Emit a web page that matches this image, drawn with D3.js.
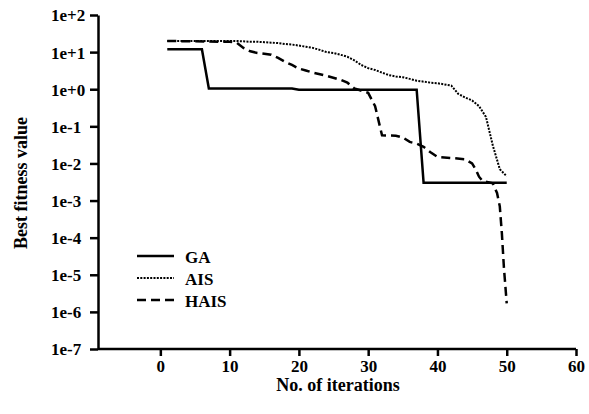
<!DOCTYPE html>
<html>
<head>
<meta charset="utf-8">
<script src="https://cdn.jsdelivr.net/npm/d3@7"></script>
<style>
  html, body { margin: 0; padding: 0; background: #fff; }
</style>
</head>
<body>
<svg id="chart" width="589" height="414"></svg>
<script>
// ---- data ----
const xTicks = [0, 10, 20, 30, 40, 50, 60];
const yTicks = [1e-7, 1e-6, 1e-5, 1e-4, 1e-3, 1e-2, 1e-1, 1e0, 1e1, 1e2];
const yTickLabels = ["1e-7", "1e-6", "1e-5", "1e-4", "1e-3", "1e-2", "1e-1", "1e+0", "1e+1", "1e+2"];
const seriesNames = ["GA", "AIS", "HAIS"];

// GA: [iteration, best fitness]
const gaIter  = [1, 6, 7, 19, 20, 37, 38, 50];
const gaValue = [12, 12, 1.05, 1.05, 0.97, 0.97, 0.003, 0.003];

// AIS: one value per iteration 1..50
const aisIter = d3.range(1, 51);
const aisValue = [20, 20, 20, 20, 20, 20, 20, 20, 20, 20,
                  20, 19.5, 19, 19, 18.5, 18, 17.5, 16.5, 16, 15,
                  14, 13, 11.5, 10, 9.5, 8.5, 7.5, 6, 4.5, 3.7,
                  3.3, 2.8, 2.4, 2.2, 2.1, 1.9, 1.7, 1.6, 1.5, 1.45,
                  1.35, 1.25, 0.75, 0.6, 0.5, 0.35, 0.18, 0.03, 0.007, 0.0045];

// HAIS: [iteration, best fitness]
const haisIter  = [1, 5, 10, 11, 12, 13, 14, 16, 17, 18, 19, 20, 21, 22, 24, 26, 27, 28, 30, 31, 32, 34, 35, 36, 37, 38, 39, 40, 42, 44, 45, 45.5, 46, 46.5, 48, 48.6, 49, 49.3, 49.6, 50];
const haisValue = [20, 19.5, 19, 18, 13, 10.5, 9.5, 8.5, 7, 5.5, 4.5, 3.6, 3.2, 2.8, 2.3, 1.8, 1.5, 1.05, 0.8, 0.35, 0.057, 0.056, 0.05, 0.038, 0.034, 0.028, 0.02, 0.015, 0.014, 0.013, 0.01, 0.007, 0.0044, 0.0034, 0.0029, 0.0016, 0.0007, 0.00013, 0.000015, 1.7e-6];

// ---- drawing ----
const FONT = "'Liberation Serif', 'Times New Roman', Tinos, 'DejaVu Serif', serif";
const svg = d3.select("#chart");
const x = d3.scaleLinear().domain([-9, 60]).range([98, 576]);
const y = d3.scaleLog().domain([1e-7, 1e2]).range([349, 15]);

const styles = {
  GA:   { width: 2.5, dash: null },
  AIS:  { width: 2,   dash: "2,1.3" },
  HAIS: { width: 2.5, dash: "9,5" }
};

const line = d3.line().x(d => x(d[0])).y(d => y(d[1]));
const series = [
  { name: "GA",   pts: d3.zip(gaIter, gaValue) },
  { name: "AIS",  pts: d3.zip(aisIter, aisValue) },
  { name: "HAIS", pts: d3.zip(haisIter, haisValue) }
];

series.forEach(s => {
  svg.append("path")
    .attr("d", line(s.pts))
    .attr("fill", "none")
    .attr("stroke", "#000")
    .attr("stroke-width", styles[s.name].width)
    .attr("stroke-dasharray", styles[s.name].dash)
    .attr("stroke-linejoin", "miter");
});

// axes
const xAxis = d3.axisBottom(x).tickValues(xTicks).tickFormat(d3.format("d"))
  .tickSize(7).tickSizeOuter(0).tickPadding(4);
const gx = svg.append("g").attr("transform", "translate(0,349)").call(xAxis);

const yAxis = d3.axisLeft(y).tickValues(yTicks)
  .tickFormat((d, i) => yTickLabels[i]).tickSize(8).tickSizeOuter(0);
const gy = svg.append("g").attr("transform", "translate(98,0)").call(yAxis);

[gx, gy].forEach(g => {
  g.attr("font-family", FONT).attr("font-size", 17).attr("font-weight", "bold");
  g.select(".domain").attr("stroke", "#000").attr("stroke-width", 2.5);
  g.selectAll(".tick line").attr("stroke", "#000").attr("stroke-width", 2.5);
  g.selectAll(".tick text").attr("fill", "#000");
});
gy.selectAll(".tick text").attr("x", -47).attr("text-anchor", "start").attr("dy", "0.35em");
// extend x axis line to meet the y axis
gx.select(".domain").attr("d", `M${x(-9)},0H${x(60)}`);

// axis titles
svg.append("text")
  .attr("x", 338).attr("y", 391)
  .attr("text-anchor", "middle")
  .attr("font-family", FONT).attr("font-weight", "bold").attr("font-size", 18)
  .text("No. of iterations");
svg.append("text")
  .attr("transform", "translate(27,183) rotate(-90)")
  .attr("text-anchor", "middle")
  .attr("font-family", FONT).attr("font-weight", "bold").attr("font-size", 18)
  .text("Best fitness value");

// legend
const legendY = [256, 278, 300];
seriesNames.forEach((n, i) => {
  svg.append("line")
    .attr("x1", 137).attr("x2", 174)
    .attr("y1", legendY[i]).attr("y2", legendY[i])
    .attr("stroke", "#000")
    .attr("stroke-width", styles[n].width)
    .attr("stroke-dasharray", styles[n].dash);
  svg.append("text")
    .attr("x", 185).attr("y", legendY[i] + 6.5)
    .attr("font-family", FONT).attr("font-weight", "bold").attr("font-size", 17)
    .text(n);
});
</script>
</body>
</html>
